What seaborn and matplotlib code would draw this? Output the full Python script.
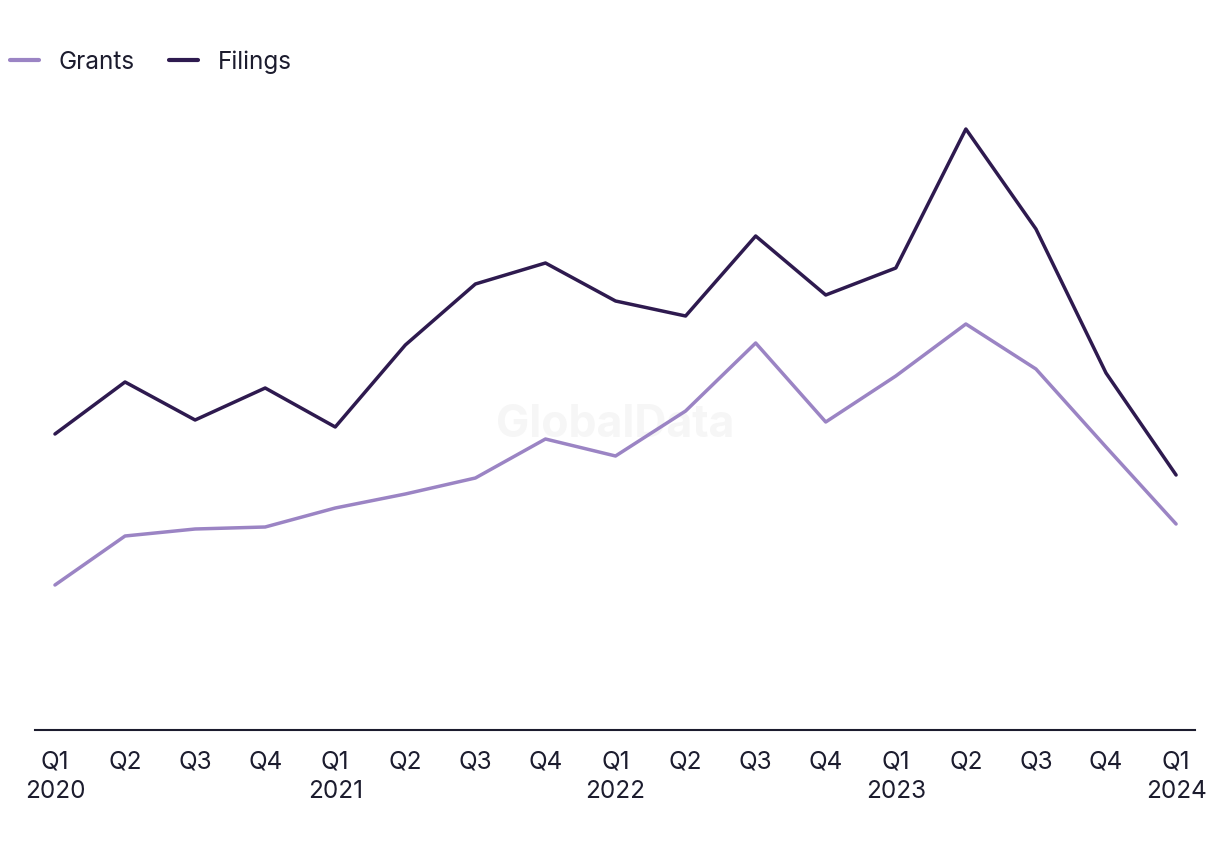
import pandas as pd
import matplotlib
matplotlib.use("Agg")
import matplotlib.pyplot as plt
import seaborn as sns

# Data (no y axis shown in the chart, values read as relative heights)
quarters = ["Q1\n2020", "Q2", "Q3", "Q4", "Q1\n2021", "Q2", "Q3", "Q4",
            "Q1\n2022", "Q2", "Q3", "Q4", "Q1\n2023", "Q2", "Q3", "Q4", "Q1\n2024"]
grants = [145, 194, 201, 203, 222, 236, 252, 291, 274, 319, 387, 308, 354, 406, 361, 283, 206]
filings = [296, 348, 310, 342, 303, 385, 446, 467, 429, 414, 494, 435, 462, 601, 501, 357, 255]

grants_color = "#9b84c4"
filings_color = "#2e1a4f"
text_color = "#1c1c2e"

df = pd.DataFrame({
    "idx": list(range(len(quarters))) * 2,
    "value": grants + filings,
    "series": ["Grants"] * len(grants) + ["Filings"] * len(filings),
})

sns.set_theme(style="white")
plt.rcParams["font.family"] = ["Inter", "DejaVu Sans"]

fig = plt.figure(figsize=(12.2, 8.5), dpi=100)
ax = fig.add_axes([35 / 1220, 120 / 850, 1160 / 1220, 630 / 850])

sns.lineplot(data=df, x="idx", y="value", hue="series",
             palette={"Grants": grants_color, "Filings": filings_color},
             linewidth=2.5, ax=ax, legend=False)

ax.set_xlim(-0.285, 16.27)
ax.set_ylim(0, 630)
ax.set_xticks(range(len(quarters)))
ax.set_xticklabels(quarters, fontsize=17.5, color=text_color, linespacing=1.35)
ax.tick_params(axis="x", length=0, pad=15)
ax.set_yticks([])
ax.set_xlabel("")
ax.set_ylabel("")
for side in ["top", "right", "left"]:
    ax.spines[side].set_visible(False)
ax.spines["bottom"].set_color(text_color)
ax.spines["bottom"].set_linewidth(1.5)

# watermark
ax.text(0.5, (730 - 425) / 630, "GlobalData", transform=ax.transAxes,
        ha="center", va="center", fontsize=32, fontweight="bold",
        color="#f6f6f6", zorder=0)

handles = [plt.Line2D([], [], color=grants_color, linewidth=3),
           plt.Line2D([], [], color=filings_color, linewidth=3)]
fig.legend(handles, ["Grants", "Filings"], loc="center left",
           bbox_to_anchor=(10 / 1220, 1 - 62 / 850), ncol=2, frameon=False,
           fontsize=17.5, handlelength=1.2, handletextpad=0.8,
           columnspacing=1.4, labelcolor=text_color, borderaxespad=0,
           borderpad=0)

fig.savefig("out.png", dpi=100)
